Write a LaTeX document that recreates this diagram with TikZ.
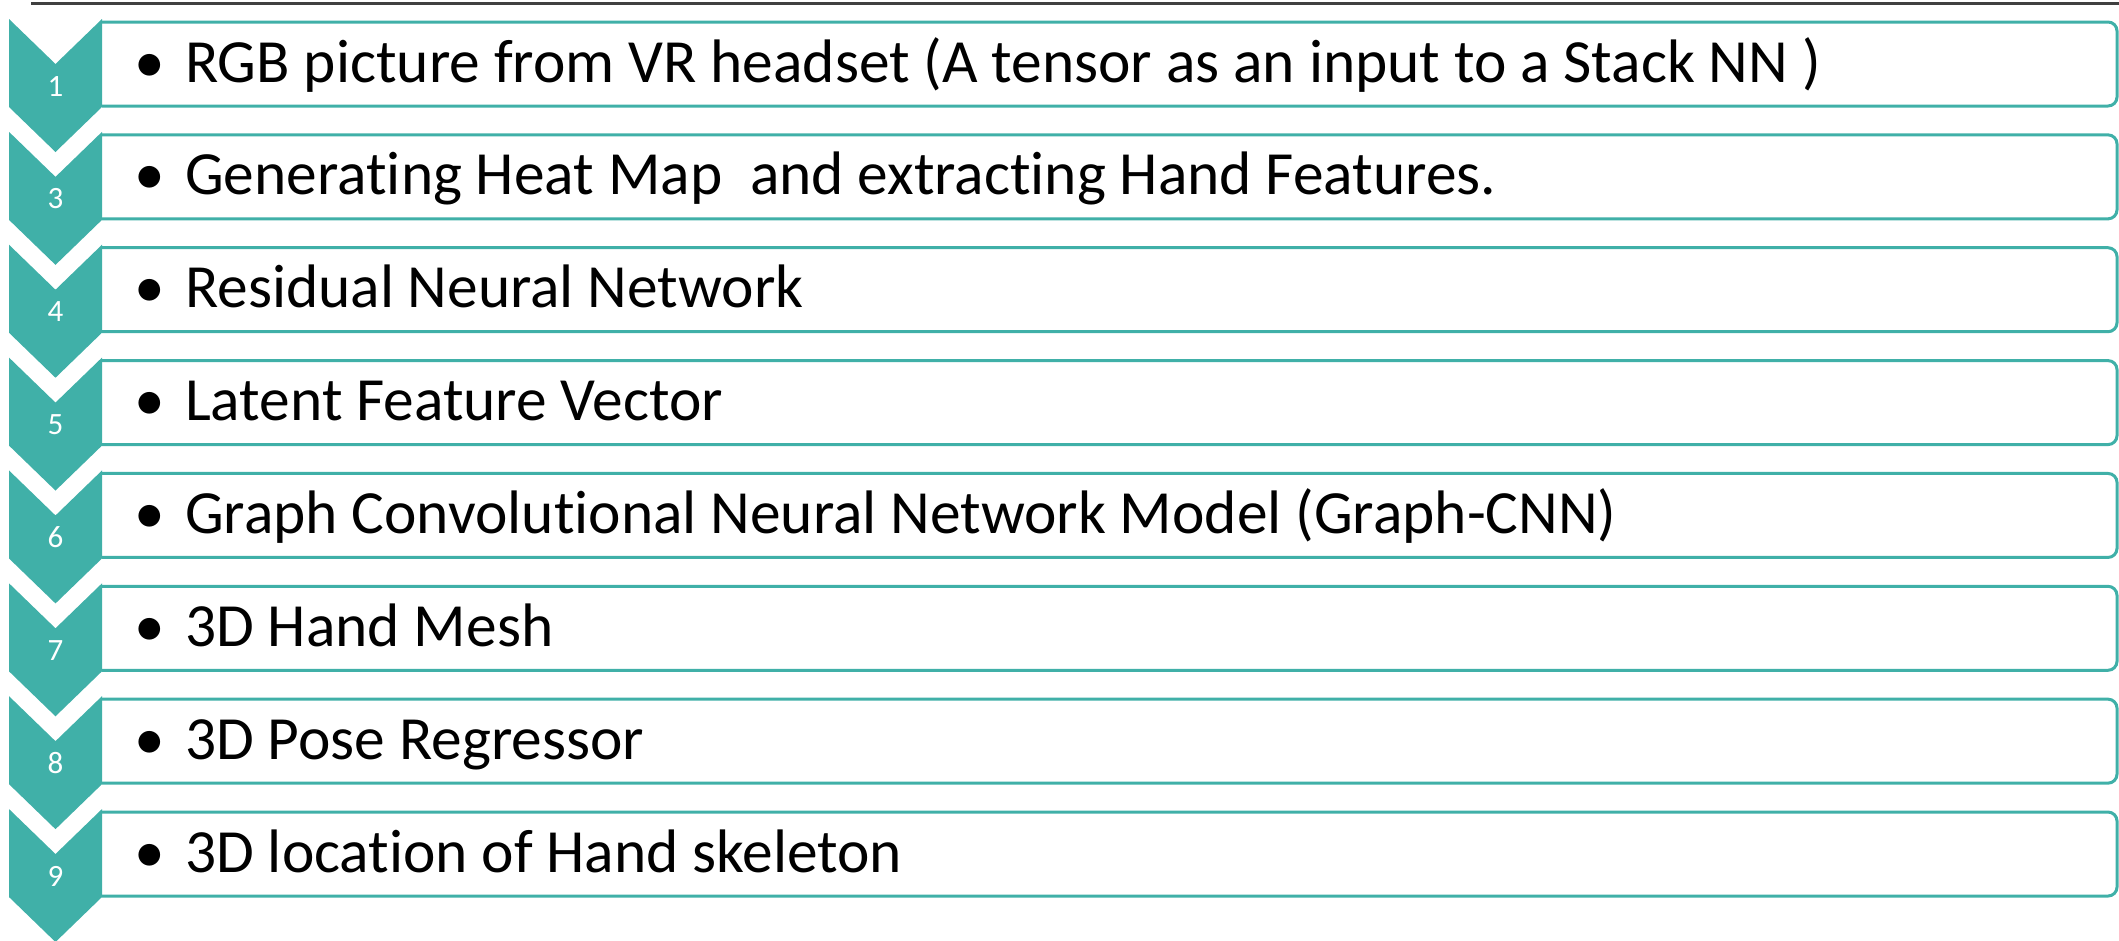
\documentclass[tikz,border=0pt]{standalone}
\usepackage{fontspec}
\setmainfont[Ligatures=NoCommon]{Carlito}
\definecolor{teal1}{RGB}{64,176,168}
\definecolor{rule1}{RGB}{64,64,64}
\tikzset{
  chev/.style={fill=teal1, draw=none},
  rowbox/.style={draw=teal1, line width=3pt, fill=white},
  numtxt/.style={text=white, font=\fontsize{31}{36}\selectfont, inner sep=0pt, anchor=base},
  bultxt/.style={text=black, font=\fontsize{61.4}{70}\selectfont, inner sep=0pt, anchor=base},
  itemtxt/.style={text=black, font=\fontsize{61.4}{70}\selectfont, inner sep=0pt, anchor=base west},
}
\begin{document}
\begin{tikzpicture}[x=1pt,y=-1pt]
\useasboundingbox (0,0) rectangle (2119,940);
\draw[rule1, line width=2.5pt] (31,3.5) -- (2119,3.5);
\foreach \k/\n/\t in {0/1/{RGB picture from VR headset (A tensor as an input to a Stack NN )},
  1/3/{Generating Heat Map\ \ and extracting Hand Features.},
  2/4/{Residual Neural Network},
  3/5/{Latent Feature Vector},
  4/6/{Graph Convolutional Neural Network Model (Graph-CNN)},
  5/7/{3D Hand Mesh},
  6/8/{3D Pose Regressor},
  7/9/{3D location of Hand skeleton}}{
  \pgfmathsetmacro{\T}{19+112.86*\k}
  \pgfmathsetmacro{\B}{22+112.86*\k}
  \draw[rowbox] (102,\B) [rounded corners=9pt] -- (2117,\B) -- (2117,\B+84) [sharp corners] -- (102,\B+84);
  \fill[chev] (9,\T) -- (55.5,\T+45) -- (102,\T) -- (102,\T+88) -- (55.5,\T+133) -- (9,\T+88) -- cycle;
  \node[numtxt] (num\n) at (55.5,\T+77) {\n};
  \node[bultxt] (bul\n) at (150,\T+63) {\textbullet};
  \node[itemtxt] (item\n) at (185,\T+63) {\t};
}
\end{tikzpicture}
\end{document}
